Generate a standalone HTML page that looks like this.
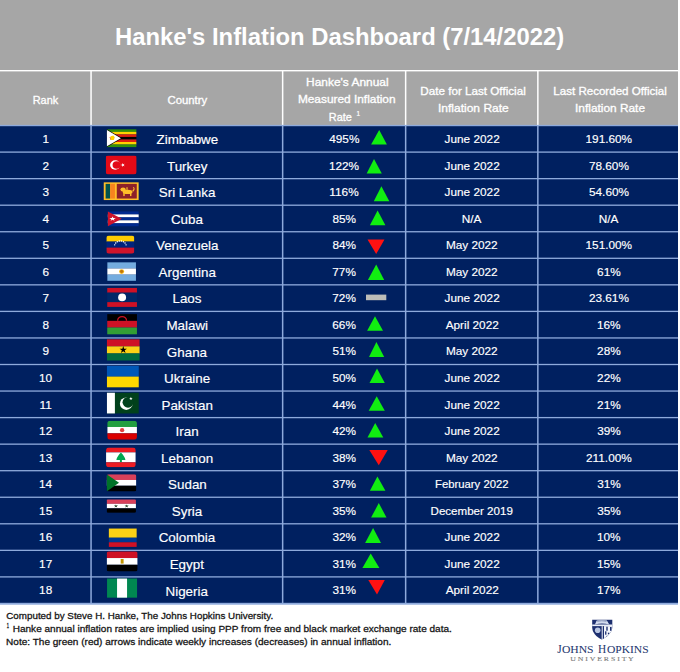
<!DOCTYPE html>
<html><head><meta charset="utf-8"><style>
html,body{margin:0;padding:0;background:#fff;width:680px;height:672px;overflow:hidden}
svg{display:block}
</style></head><body>
<svg width="680" height="672" viewBox="0 0 680 672">
<rect x="0" y="0" width="678" height="125" fill="#a6a6a6"/>
<rect x="0" y="125" width="678" height="478" fill="#002060"/>
<rect x="0" y="70" width="678" height="1.4" fill="#fff"/>
<rect x="90.3" y="70" width="1.5" height="55.5" fill="#fff"/>
<rect x="281.9" y="70" width="1.5" height="55.5" fill="#fff"/>
<rect x="404.9" y="70" width="1.5" height="55.5" fill="#fff"/>
<rect x="537.1" y="70" width="1.5" height="55.5" fill="#fff"/>
<rect x="0" y="124.9" width="678" height="1.3" fill="#8eaadc"/>
<rect x="0" y="151.45" width="678" height="1.3" fill="#8eaadc"/>
<rect x="0" y="178" width="678" height="1.3" fill="#8eaadc"/>
<rect x="0" y="204.55" width="678" height="1.3" fill="#8eaadc"/>
<rect x="0" y="231.1" width="678" height="1.3" fill="#8eaadc"/>
<rect x="0" y="257.65" width="678" height="1.3" fill="#8eaadc"/>
<rect x="0" y="284.2" width="678" height="1.3" fill="#8eaadc"/>
<rect x="0" y="310.75" width="678" height="1.3" fill="#8eaadc"/>
<rect x="0" y="337.3" width="678" height="1.3" fill="#8eaadc"/>
<rect x="0" y="363.85" width="678" height="1.3" fill="#8eaadc"/>
<rect x="0" y="390.4" width="678" height="1.3" fill="#8eaadc"/>
<rect x="0" y="416.95" width="678" height="1.3" fill="#8eaadc"/>
<rect x="0" y="443.5" width="678" height="1.3" fill="#8eaadc"/>
<rect x="0" y="470.05" width="678" height="1.3" fill="#8eaadc"/>
<rect x="0" y="496.6" width="678" height="1.3" fill="#8eaadc"/>
<rect x="0" y="523.15" width="678" height="1.3" fill="#8eaadc"/>
<rect x="0" y="549.7" width="678" height="1.3" fill="#8eaadc"/>
<rect x="0" y="576.25" width="678" height="1.3" fill="#8eaadc"/>
<rect x="0" y="602.8" width="678" height="1.9" fill="#8eaadc"/>
<rect x="90.3" y="125" width="1.5" height="478.5" fill="#8eaadc"/>
<rect x="281.9" y="125" width="1.5" height="478.5" fill="#8eaadc"/>
<rect x="404.9" y="125" width="1.5" height="478.5" fill="#8eaadc"/>
<rect x="537.1" y="125" width="1.5" height="478.5" fill="#8eaadc"/>
<polygon points="379.2,130.0 371.1,144.6 386.9,144.6" fill="#11ee11"/>
<polygon points="374.0,158.9 366.7,173.6 381.8,173.6" fill="#11ee11"/>
<polygon points="381.4,186.3 373.8,201.2 389.3,201.2" fill="#11ee11"/>
<polygon points="377.6,210.4 369.9,225.2 385.4,225.2" fill="#11ee11"/>
<polygon points="376.2,254.0 367.5,239.5 384.5,239.5" fill="#ff1111"/>
<polygon points="376.2,264.5 367.9,280.0 384.2,280.0" fill="#11ee11"/>
<polygon points="375.0,316.2 367.1,330.8 383.0,330.8" fill="#11ee11"/>
<polygon points="376.4,342.1 369.0,357.0 384.2,357.0" fill="#11ee11"/>
<polygon points="377.0,368.6 369.5,383.1 384.8,383.1" fill="#11ee11"/>
<polygon points="376.7,396.2 368.7,410.8 384.8,410.8" fill="#11ee11"/>
<polygon points="375.2,423.1 367.5,437.4 383.3,437.4" fill="#11ee11"/>
<polygon points="378.8,465.2 369.3,450.0 387.7,450.0" fill="#ff1111"/>
<polygon points="377.4,476.5 369.9,490.8 385.4,490.8" fill="#11ee11"/>
<polygon points="378.8,503.1 371.1,517.6 386.5,517.6" fill="#11ee11"/>
<polygon points="373.1,528.0 365.1,542.9 381.0,542.9" fill="#11ee11"/>
<polygon points="370.7,553.6 362.4,567.9 379.4,567.9" fill="#11ee11"/>
<polygon points="377.0,594.6 368.3,580.0 384.8,580.0" fill="#ff1111"/>
<rect x="366" y="294.6" width="20.3" height="5.6" fill="#bdbdb8"/>
<g transform="translate(106.95,129.35) scale(0.9800,0.8850)"><rect x="0" y="0.000" width="30" height="2.907" fill="#319208"/><rect x="0" y="2.857" width="30" height="2.907" fill="#ffd200"/><rect x="0" y="5.714" width="30" height="2.907" fill="#de2010"/><rect x="0" y="8.571" width="30" height="2.907" fill="#000"/><rect x="0" y="11.429" width="30" height="2.907" fill="#de2010"/><rect x="0" y="14.286" width="30" height="2.907" fill="#ffd200"/><rect x="0" y="17.143" width="30" height="2.907" fill="#319208"/><polygon points="0,0 15.5,10 0,20" fill="#000"/><polygon points="0,0.8 14.2,10 0,19.2" fill="#fff"/><polygon points="4.60,7.40 5.18,9.20 7.07,9.20 5.54,10.31 6.13,12.10 4.60,10.99 3.07,12.10 3.66,10.31 2.13,9.20 4.02,9.20" fill="#de2010"/><path d="M3.5,8 l3,-1 l1.5,2 l-1,3 l-3,0 z" fill="#ffd200"/></g>
<g transform="translate(105.75,155.55) scale(1.0300,0.9450)"><clipPath id="c10571555"><rect width="30" height="20" rx="2.5" ry="2.5"/></clipPath><g clip-path="url(#c10571555)"><rect width="30" height="20" fill="#e30a17"/><circle cx="9.2" cy="10" r="5.0" fill="#fff"/><circle cx="10.6" cy="10" r="4.0" fill="#e30a17"/><polygon points="14.50,10.00 15.95,9.53 15.95,8.00 16.85,9.24 18.30,8.77 17.40,10.00 18.30,11.23 16.85,10.76 15.95,12.00 15.95,10.47" fill="#fff"/></g></g>
<g transform="translate(103.75,182.35) scale(1.1633,0.8850)"><rect width="30" height="20" fill="#ffbe29"/><rect x="1.6" y="1.7" width="3.9" height="16.6" fill="#00534e"/><rect x="5.6" y="1.7" width="4.0" height="16.6" fill="#f7831f"/><rect x="11.2" y="1.7" width="17.2" height="16.6" fill="#8d2029"/><g fill="#ffbe29"><ellipse cx="20.5" cy="10.8" rx="4.2" ry="2.4"/><circle cx="16.6" cy="8.2" r="2.3"/><rect x="16.8" y="11.5" width="1.2" height="4"/><rect x="22.6" y="11.5" width="1.2" height="4"/><path d="M24.5,9.5 Q26.5,7 25,5.5 L25.8,5.2 Q27.5,7.5 25.2,10.5 Z"/><rect x="19.5" y="5.5" width="1" height="3"/></g></g>
<g transform="translate(107.85,211.45) scale(1.0267,0.7400)"><rect x="0" y="0.000" width="30" height="4.050" fill="#002a8f"/><rect x="0" y="4.000" width="30" height="4.050" fill="#fff"/><rect x="0" y="8.000" width="30" height="4.050" fill="#002a8f"/><rect x="0" y="12.000" width="30" height="4.050" fill="#fff"/><rect x="0" y="16.000" width="30" height="4.050" fill="#002a8f"/><polygon points="0,0 13.5,10 0,20" fill="#cf142b"/><polygon points="4.60,6.70 5.34,8.98 7.74,8.98 5.80,10.39 6.54,12.67 4.60,11.26 2.66,12.67 3.40,10.39 1.46,8.98 3.86,8.98" fill="#fff"/></g>
<g transform="translate(106.35,235.55) scale(0.9333,0.9050)"><clipPath id="c10632355"><rect width="30" height="20" rx="3" ry="3.0"/></clipPath><g clip-path="url(#c10632355)"><rect x="0" y="0.000" width="30" height="6.717" fill="#ffcc00"/><rect x="0" y="6.667" width="30" height="6.717" fill="#00247d"/><rect x="0" y="13.333" width="30" height="6.717" fill="#cf142b"/><circle cx="8.89" cy="10.28" r="0.8" fill="#fff"/><circle cx="10.02" cy="8.32" r="0.8" fill="#fff"/><circle cx="11.75" cy="6.87" r="0.8" fill="#fff"/><circle cx="13.87" cy="6.10" r="0.8" fill="#fff"/><circle cx="16.13" cy="6.10" r="0.8" fill="#fff"/><circle cx="18.25" cy="6.87" r="0.8" fill="#fff"/><circle cx="19.98" cy="8.32" r="0.8" fill="#fff"/><circle cx="21.11" cy="10.28" r="0.8" fill="#fff"/></g></g>
<g transform="translate(107.35,262.35) scale(0.9533,0.9200)"><rect x="0" y="0.000" width="30" height="6.717" fill="#74acdf"/><rect x="0" y="6.667" width="30" height="6.717" fill="#fff"/><rect x="0" y="13.333" width="30" height="6.717" fill="#74acdf"/><circle cx="15" cy="10" r="2.6" fill="#f6b40e"/><circle cx="15" cy="10" r="1.6" fill="#85340a" opacity="0.5"/></g>
<g transform="translate(107.25,287.95) scale(0.9900,0.9450)"><rect x="0" y="0.000" width="30" height="5.050" fill="#ce1126"/><rect x="0" y="5.000" width="30" height="10.050" fill="#002868"/><rect x="0" y="15.000" width="30" height="5.050" fill="#ce1126"/><circle cx="15" cy="10" r="4" fill="#fff"/></g>
<g transform="translate(107.25,314.15) scale(0.9900,1.0050)"><rect x="0" y="0.000" width="30" height="6.717" fill="#000"/><rect x="0" y="6.667" width="30" height="6.717" fill="#ce1126"/><rect x="0" y="13.333" width="30" height="6.717" fill="#339e35"/><path d="M10.5,6.6 A4.5,4.2 0 0 1 19.5,6.6" fill="none" stroke="#ce1126" stroke-width="1.3"/></g>
<g transform="translate(106.95,339.35) scale(1.0867,1.0550)"><rect x="0" y="0.000" width="30" height="6.717" fill="#ce1126"/><rect x="0" y="6.667" width="30" height="6.717" fill="#fcd116"/><rect x="0" y="13.333" width="30" height="6.717" fill="#006b3f"/><polygon points="15.00,6.40 15.81,8.89 18.42,8.89 16.31,10.42 17.12,12.91 15.00,11.38 12.88,12.91 13.69,10.42 11.58,8.89 14.19,8.89" fill="#000"/></g>
<g transform="translate(106.95,365.95) scale(1.0600,1.0650)"><rect x="0" y="0.000" width="30" height="10.050" fill="#0057b7"/><rect x="0" y="10.000" width="30" height="10.050" fill="#ffd700"/></g>
<g transform="translate(106.95,392.75) scale(1.0600,1.0350)"><rect width="30" height="20" fill="#01411c"/><rect width="7.5" height="20" fill="#fff"/><circle cx="18.2" cy="10.6" r="6" fill="#fff"/><circle cx="19.9" cy="9.2" r="5.2" fill="#01411c"/><polygon points="22.60,3.80 23.00,5.04 24.31,5.04 23.25,5.81 23.66,7.06 22.60,6.29 21.54,7.06 21.95,5.81 20.89,5.04 22.20,5.04" fill="#fff"/></g>
<g transform="translate(107.25,420.65) scale(0.9900,0.9500)"><clipPath id="c10724206"><rect width="30" height="20" rx="3" ry="3.0"/></clipPath><g clip-path="url(#c10724206)"><rect x="0" y="0.000" width="30" height="6.717" fill="#239f40"/><rect x="0" y="6.667" width="30" height="6.717" fill="#fff"/><rect x="0" y="13.333" width="30" height="6.717" fill="#da0000"/><circle cx="15" cy="10" r="2.2" fill="#da0000" opacity="0.75"/></g></g>
<g transform="translate(106.05,447.45) scale(0.9900,0.9900)"><clipPath id="c10604474"><rect width="30" height="20" rx="3" ry="3.0"/></clipPath><g clip-path="url(#c10604474)"><rect x="0" y="0.000" width="30" height="5.050" fill="#ed1c24"/><rect x="0" y="5.000" width="30" height="10.050" fill="#fff"/><rect x="0" y="15.000" width="30" height="5.050" fill="#ed1c24"/><path d="M15,5.0 Q17.2,7 18,9 Q19.8,11.6 19.6,12.6 Q17.5,13 16,12.6 L16,14.6 L14,14.6 L14,12.6 Q12.5,13 10.4,12.6 Q10.2,11.6 12,9 Q12.8,7 15,5.0 Z" fill="#00a651"/></g></g>
<g transform="translate(106.65,474.25) scale(0.9900,0.8600)"><clipPath id="c10664742"><rect width="30" height="20" rx="2" ry="2.0"/></clipPath><g clip-path="url(#c10664742)"><rect x="0" y="0.000" width="30" height="6.717" fill="#d8405a"/><rect x="0" y="6.667" width="30" height="6.717" fill="#fff"/><rect x="0" y="13.333" width="30" height="6.717" fill="#000"/><polygon points="0,0 12.5,10 0,20" fill="#007229"/></g></g>
<g transform="translate(106.65,499.35) scale(0.9767,0.6750)"><clipPath id="c10664993"><rect width="30" height="20" rx="1.5" ry="1.5"/></clipPath><g clip-path="url(#c10664993)"><rect x="0" y="0.000" width="30" height="6.717" fill="#d8405a"/><rect x="0" y="6.667" width="30" height="6.717" fill="#fff"/><rect x="0" y="13.333" width="30" height="6.717" fill="#000"/><polygon points="9.50,7.60 10.04,9.26 11.78,9.26 10.37,10.28 10.91,11.94 9.50,10.92 8.09,11.94 8.63,10.28 7.22,9.26 8.96,9.26" fill="#2a4a30"/><polygon points="20.50,7.60 21.04,9.26 22.78,9.26 21.37,10.28 21.91,11.94 20.50,10.92 19.09,11.94 19.63,10.28 18.22,9.26 19.96,9.26" fill="#2a4a30"/></g></g>
<g transform="translate(108.85,528.55) scale(0.9267,0.9150)"><rect x="0" y="0.000" width="30" height="10.050" fill="#fcd116"/><rect x="0" y="10.000" width="30" height="5.050" fill="#003893"/><rect x="0" y="15.000" width="30" height="5.050" fill="#ce1126"/></g>
<g transform="translate(106.65,551.35) scale(1.0333,1.0050)"><clipPath id="c10665513"><rect width="30" height="20" rx="2.5" ry="2.5"/></clipPath><g clip-path="url(#c10665513)"><rect x="0" y="0.000" width="30" height="6.717" fill="#ce1126"/><rect x="0" y="6.667" width="30" height="6.717" fill="#fff"/><rect x="0" y="13.333" width="30" height="6.717" fill="#000"/><rect x="13.6" y="7.6" width="2.8" height="4.6" fill="#c09300"/></g></g>
<g transform="translate(107.05,578.55) scale(1.0000,0.9550)"><rect width="30" height="20" fill="#008751"/><rect x="10" width="10" height="20" fill="#fff"/></g>
<defs><clipPath id="shc"><path d="M0,0 L20.2,0 L20.2,8 C20,13 15,17.5 9.6,20.1 C4.2,17.5 0.2,13 0,8 Z"/></clipPath></defs><g transform="translate(592.1,619.5)"><g clip-path="url(#shc)"><rect x="-1" y="-1" width="23" height="23" fill="#1d2f6f"/><path d="M2.8,4.9 L4.6,1.0 Q9.6,-0.2 14.8,1.0 L17.2,4.9 Q9.8,3.0 2.8,4.9 Z" fill="#d3dbee"/><path d="M5,1.4 Q9.6,0.3 14.5,1.4 L14.3,2.2 Q9.6,1.3 5.2,2.2 Z" fill="#8a96b8"/><rect x="-1" y="5.0" width="23" height="1.6" fill="#e9eef8"/><rect x="9.6" y="6.6" width="12" height="15" fill="#f4f6fb"/><circle cx="5.6" cy="10.8" r="2.8" fill="#b9c6e2"/><rect x="10.6" y="6.6" width="1.3" height="14" fill="#1d2f6f"/><rect x="14.2" y="7.2" width="1.4" height="4" fill="#1d2f6f"/><rect x="13.0" y="11.8" width="1.3" height="3.4" fill="#1d2f6f"/><rect x="17.9" y="7.5" width="1.6" height="3.8" fill="#1d2f6f"/><rect x="15.8" y="13.2" width="1.4" height="1.6" fill="#1d2f6f"/><rect x="14.4" y="16.3" width="1.2" height="1.8" fill="#1d2f6f"/><rect x="19.0" y="13" width="1.4" height="2" fill="#1d2f6f"/></g></g>
<text transform="translate(116.4,44.6) scale(1.0146,1)" x="-1.47" font-size="23.5" font-weight="bold" font-family="Liberation Sans" fill="#ffffff">Hanke&#39;s Inflation Dashboard (7/14/2022)</text>
<text transform="translate(33.5,103.6) scale(0.9963,1)" x="-0.86" font-size="11" font-weight="normal" font-family="Liberation Sans" fill="#fff" stroke="#fff" stroke-width="0.32">Rank</text>
<text transform="translate(168,103.7) scale(1.0316,1)" x="-0.52" font-size="11" font-weight="normal" font-family="Liberation Sans" fill="#fff" stroke="#fff" stroke-width="0.32">Country</text>
<text transform="translate(307,85.5) scale(1.0849,1)" x="-0.86" font-size="11" font-weight="normal" font-family="Liberation Sans" fill="#fff" stroke="#fff" stroke-width="0.32">Hanke&#39;s Annual</text>
<text transform="translate(298.8,102.5) scale(1.0806,1)" x="-0.86" font-size="11" font-weight="normal" font-family="Liberation Sans" fill="#fff" stroke="#fff" stroke-width="0.32">Measured Inflation</text>
<text transform="translate(329.7,121.3) scale(0.9895,1)" x="-0.86" font-size="11" font-weight="normal" font-family="Liberation Sans" fill="#fff" stroke="#fff" stroke-width="0.32">Rate</text>
<text transform="translate(356.9,116) scale(0.9143,1)" x="-0.44" font-size="7" font-weight="normal" font-family="Liberation Sans" fill="#fff" stroke="#fff" stroke-width="0.2">1</text>
<text transform="translate(421.2,95.4) scale(1.0616,1)" x="-0.86" font-size="11" font-weight="normal" font-family="Liberation Sans" fill="#fff" stroke="#fff" stroke-width="0.32">Date for Last Official</text>
<text transform="translate(438.9,112.3) scale(1.0927,1)" x="-0.86" font-size="11" font-weight="normal" font-family="Liberation Sans" fill="#fff" stroke="#fff" stroke-width="0.32">Inflation Rate</text>
<text transform="translate(554.2,95.3) scale(1.0523,1)" x="-0.86" font-size="11" font-weight="normal" font-family="Liberation Sans" fill="#fff" stroke="#fff" stroke-width="0.32">Last Recorded Official</text>
<text transform="translate(576,112.3) scale(1.0801,1)" x="-0.86" font-size="11" font-weight="normal" font-family="Liberation Sans" fill="#fff" stroke="#fff" stroke-width="0.32">Inflation Rate</text>
<text transform="translate(45.8,143.08) scale(1.0000,1)" x="-3.41" font-size="11.8" font-weight="normal" font-family="Liberation Sans" fill="#fff" stroke="#fff" stroke-width="0.16">1</text>
<text transform="translate(187.3,144.18) scale(1.0000,1)" x="-30.84" font-size="13.4" font-weight="normal" font-family="Liberation Sans" fill="#fff" stroke="#fff" stroke-width="0.16">Zimbabwe</text>
<text transform="translate(344.2,143.08) scale(1.0000,1)" x="-15.01" font-size="11.8" font-weight="normal" font-family="Liberation Sans" fill="#fff" stroke="#fff" stroke-width="0.16">495%</text>
<text transform="translate(472,143.08) scale(1.0000,1)" x="-27.41" font-size="11.8" font-weight="normal" font-family="Liberation Sans" fill="#fff" stroke="#fff" stroke-width="0.16">June 2022</text>
<text transform="translate(609,143.08) scale(1.0000,1)" x="-23.48" font-size="11.8" font-weight="normal" font-family="Liberation Sans" fill="#fff" stroke="#fff" stroke-width="0.16">191.60%</text>
<text transform="translate(45.8,169.62) scale(1.0000,1)" x="-3.32" font-size="11.8" font-weight="normal" font-family="Liberation Sans" fill="#fff" stroke="#fff" stroke-width="0.16">2</text>
<text transform="translate(187.3,170.72) scale(1.0000,1)" x="-20.33" font-size="13.4" font-weight="normal" font-family="Liberation Sans" fill="#fff" stroke="#fff" stroke-width="0.16">Turkey</text>
<text transform="translate(344.2,169.62) scale(1.0000,1)" x="-15.28" font-size="11.8" font-weight="normal" font-family="Liberation Sans" fill="#fff" stroke="#fff" stroke-width="0.16">122%</text>
<text transform="translate(472,169.62) scale(1.0000,1)" x="-27.41" font-size="11.8" font-weight="normal" font-family="Liberation Sans" fill="#fff" stroke="#fff" stroke-width="0.16">June 2022</text>
<text transform="translate(609,169.62) scale(1.0000,1)" x="-20.11" font-size="11.8" font-weight="normal" font-family="Liberation Sans" fill="#fff" stroke="#fff" stroke-width="0.16">78.60%</text>
<text transform="translate(45.8,196.18) scale(1.0000,1)" x="-3.23" font-size="11.8" font-weight="normal" font-family="Liberation Sans" fill="#fff" stroke="#fff" stroke-width="0.16">3</text>
<text transform="translate(187.3,197.28) scale(1.0000,1)" x="-28.56" font-size="13.4" font-weight="normal" font-family="Liberation Sans" fill="#fff" stroke="#fff" stroke-width="0.16">Sri Lanka</text>
<text transform="translate(344.2,196.18) scale(1.0000,1)" x="-14.85" font-size="11.8" font-weight="normal" font-family="Liberation Sans" fill="#fff" stroke="#fff" stroke-width="0.16">116%</text>
<text transform="translate(472,196.18) scale(1.0000,1)" x="-27.41" font-size="11.8" font-weight="normal" font-family="Liberation Sans" fill="#fff" stroke="#fff" stroke-width="0.16">June 2022</text>
<text transform="translate(609,196.18) scale(1.0000,1)" x="-20.02" font-size="11.8" font-weight="normal" font-family="Liberation Sans" fill="#fff" stroke="#fff" stroke-width="0.16">54.60%</text>
<text transform="translate(45.8,222.73) scale(1.0000,1)" x="-3.23" font-size="11.8" font-weight="normal" font-family="Liberation Sans" fill="#fff" stroke="#fff" stroke-width="0.16">4</text>
<text transform="translate(187.3,223.83) scale(1.0000,1)" x="-16.37" font-size="13.4" font-weight="normal" font-family="Liberation Sans" fill="#fff" stroke="#fff" stroke-width="0.16">Cuba</text>
<text transform="translate(344.2,222.73) scale(1.0000,1)" x="-11.82" font-size="11.8" font-weight="normal" font-family="Liberation Sans" fill="#fff" stroke="#fff" stroke-width="0.16">85%</text>
<text transform="translate(472,222.73) scale(1.0000,1)" x="-10.33" font-size="11.8" font-weight="normal" font-family="Liberation Sans" fill="#fff" stroke="#fff" stroke-width="0.16">N/A</text>
<text transform="translate(609,222.73) scale(1.0000,1)" x="-10.33" font-size="11.8" font-weight="normal" font-family="Liberation Sans" fill="#fff" stroke="#fff" stroke-width="0.16">N/A</text>
<text transform="translate(45.8,249.28) scale(1.0000,1)" x="-3.23" font-size="11.8" font-weight="normal" font-family="Liberation Sans" fill="#fff" stroke="#fff" stroke-width="0.16">5</text>
<text transform="translate(187.3,250.38) scale(1.0000,1)" x="-31.34" font-size="13.4" font-weight="normal" font-family="Liberation Sans" fill="#fff" stroke="#fff" stroke-width="0.16">Venezuela</text>
<text transform="translate(344.2,249.28) scale(1.0000,1)" x="-11.82" font-size="11.8" font-weight="normal" font-family="Liberation Sans" fill="#fff" stroke="#fff" stroke-width="0.16">84%</text>
<text transform="translate(472,249.28) scale(1.0000,1)" x="-26.13" font-size="11.8" font-weight="normal" font-family="Liberation Sans" fill="#fff" stroke="#fff" stroke-width="0.16">May 2022</text>
<text transform="translate(609,249.28) scale(1.0000,1)" x="-23.48" font-size="11.8" font-weight="normal" font-family="Liberation Sans" fill="#fff" stroke="#fff" stroke-width="0.16">151.00%</text>
<text transform="translate(45.8,275.82) scale(1.0000,1)" x="-3.32" font-size="11.8" font-weight="normal" font-family="Liberation Sans" fill="#fff" stroke="#fff" stroke-width="0.16">6</text>
<text transform="translate(187.3,276.92) scale(1.0000,1)" x="-28.72" font-size="13.4" font-weight="normal" font-family="Liberation Sans" fill="#fff" stroke="#fff" stroke-width="0.16">Argentina</text>
<text transform="translate(344.2,275.82) scale(1.0000,1)" x="-11.91" font-size="11.8" font-weight="normal" font-family="Liberation Sans" fill="#fff" stroke="#fff" stroke-width="0.16">77%</text>
<text transform="translate(472,275.82) scale(1.0000,1)" x="-26.13" font-size="11.8" font-weight="normal" font-family="Liberation Sans" fill="#fff" stroke="#fff" stroke-width="0.16">May 2022</text>
<text transform="translate(609,275.82) scale(1.0000,1)" x="-11.91" font-size="11.8" font-weight="normal" font-family="Liberation Sans" fill="#fff" stroke="#fff" stroke-width="0.16">61%</text>
<text transform="translate(45.8,302.38) scale(1.0000,1)" x="-3.32" font-size="11.8" font-weight="normal" font-family="Liberation Sans" fill="#fff" stroke="#fff" stroke-width="0.16">7</text>
<text transform="translate(187.3,303.48) scale(1.0000,1)" x="-14.84" font-size="13.4" font-weight="normal" font-family="Liberation Sans" fill="#fff" stroke="#fff" stroke-width="0.16">Laos</text>
<text transform="translate(344.2,302.38) scale(1.0000,1)" x="-11.91" font-size="11.8" font-weight="normal" font-family="Liberation Sans" fill="#fff" stroke="#fff" stroke-width="0.16">72%</text>
<text transform="translate(472,302.38) scale(1.0000,1)" x="-27.41" font-size="11.8" font-weight="normal" font-family="Liberation Sans" fill="#fff" stroke="#fff" stroke-width="0.16">June 2022</text>
<text transform="translate(609,302.38) scale(1.0000,1)" x="-20.11" font-size="11.8" font-weight="normal" font-family="Liberation Sans" fill="#fff" stroke="#fff" stroke-width="0.16">23.61%</text>
<text transform="translate(45.8,328.93) scale(1.0000,1)" x="-3.23" font-size="11.8" font-weight="normal" font-family="Liberation Sans" fill="#fff" stroke="#fff" stroke-width="0.16">8</text>
<text transform="translate(187.3,330.02) scale(1.0000,1)" x="-20.93" font-size="13.4" font-weight="normal" font-family="Liberation Sans" fill="#fff" stroke="#fff" stroke-width="0.16">Malawi</text>
<text transform="translate(344.2,328.93) scale(1.0000,1)" x="-11.91" font-size="11.8" font-weight="normal" font-family="Liberation Sans" fill="#fff" stroke="#fff" stroke-width="0.16">66%</text>
<text transform="translate(472,328.93) scale(1.0000,1)" x="-26.33" font-size="11.8" font-weight="normal" font-family="Liberation Sans" fill="#fff" stroke="#fff" stroke-width="0.16">April 2022</text>
<text transform="translate(609,328.93) scale(1.0000,1)" x="-12" font-size="11.8" font-weight="normal" font-family="Liberation Sans" fill="#fff" stroke="#fff" stroke-width="0.16">16%</text>
<text transform="translate(45.8,355.48) scale(1.0000,1)" x="-3.32" font-size="11.8" font-weight="normal" font-family="Liberation Sans" fill="#fff" stroke="#fff" stroke-width="0.16">9</text>
<text transform="translate(187.3,356.57) scale(1.0000,1)" x="-20.47" font-size="13.4" font-weight="normal" font-family="Liberation Sans" fill="#fff" stroke="#fff" stroke-width="0.16">Ghana</text>
<text transform="translate(344.2,355.48) scale(1.0000,1)" x="-11.82" font-size="11.8" font-weight="normal" font-family="Liberation Sans" fill="#fff" stroke="#fff" stroke-width="0.16">51%</text>
<text transform="translate(472,355.48) scale(1.0000,1)" x="-26.13" font-size="11.8" font-weight="normal" font-family="Liberation Sans" fill="#fff" stroke="#fff" stroke-width="0.16">May 2022</text>
<text transform="translate(609,355.48) scale(1.0000,1)" x="-11.91" font-size="11.8" font-weight="normal" font-family="Liberation Sans" fill="#fff" stroke="#fff" stroke-width="0.16">28%</text>
<text transform="translate(45.8,382.03) scale(1.0000,1)" x="-6.78" font-size="11.8" font-weight="normal" font-family="Liberation Sans" fill="#fff" stroke="#fff" stroke-width="0.16">10</text>
<text transform="translate(187.3,383.12) scale(1.0000,1)" x="-23.23" font-size="13.4" font-weight="normal" font-family="Liberation Sans" fill="#fff" stroke="#fff" stroke-width="0.16">Ukraine</text>
<text transform="translate(344.2,382.03) scale(1.0000,1)" x="-11.82" font-size="11.8" font-weight="normal" font-family="Liberation Sans" fill="#fff" stroke="#fff" stroke-width="0.16">50%</text>
<text transform="translate(472,382.03) scale(1.0000,1)" x="-27.41" font-size="11.8" font-weight="normal" font-family="Liberation Sans" fill="#fff" stroke="#fff" stroke-width="0.16">June 2022</text>
<text transform="translate(609,382.03) scale(1.0000,1)" x="-11.91" font-size="11.8" font-weight="normal" font-family="Liberation Sans" fill="#fff" stroke="#fff" stroke-width="0.16">22%</text>
<text transform="translate(45.8,408.57) scale(1.0000,1)" x="-6.25" font-size="11.8" font-weight="normal" font-family="Liberation Sans" fill="#fff" stroke="#fff" stroke-width="0.16">11</text>
<text transform="translate(187.3,409.67) scale(1.0000,1)" x="-25.84" font-size="13.4" font-weight="normal" font-family="Liberation Sans" fill="#fff" stroke="#fff" stroke-width="0.16">Pakistan</text>
<text transform="translate(344.2,408.57) scale(1.0000,1)" x="-11.73" font-size="11.8" font-weight="normal" font-family="Liberation Sans" fill="#fff" stroke="#fff" stroke-width="0.16">44%</text>
<text transform="translate(472,408.57) scale(1.0000,1)" x="-27.41" font-size="11.8" font-weight="normal" font-family="Liberation Sans" fill="#fff" stroke="#fff" stroke-width="0.16">June 2022</text>
<text transform="translate(609,408.57) scale(1.0000,1)" x="-11.91" font-size="11.8" font-weight="normal" font-family="Liberation Sans" fill="#fff" stroke="#fff" stroke-width="0.16">21%</text>
<text transform="translate(45.8,435.13) scale(1.0000,1)" x="-6.69" font-size="11.8" font-weight="normal" font-family="Liberation Sans" fill="#fff" stroke="#fff" stroke-width="0.16">12</text>
<text transform="translate(187.3,436.23) scale(1.0000,1)" x="-11.69" font-size="13.4" font-weight="normal" font-family="Liberation Sans" fill="#fff" stroke="#fff" stroke-width="0.16">Iran</text>
<text transform="translate(344.2,435.13) scale(1.0000,1)" x="-11.73" font-size="11.8" font-weight="normal" font-family="Liberation Sans" fill="#fff" stroke="#fff" stroke-width="0.16">42%</text>
<text transform="translate(472,435.13) scale(1.0000,1)" x="-27.41" font-size="11.8" font-weight="normal" font-family="Liberation Sans" fill="#fff" stroke="#fff" stroke-width="0.16">June 2022</text>
<text transform="translate(609,435.13) scale(1.0000,1)" x="-11.82" font-size="11.8" font-weight="normal" font-family="Liberation Sans" fill="#fff" stroke="#fff" stroke-width="0.16">39%</text>
<text transform="translate(45.8,461.68) scale(1.0000,1)" x="-6.69" font-size="11.8" font-weight="normal" font-family="Liberation Sans" fill="#fff" stroke="#fff" stroke-width="0.16">13</text>
<text transform="translate(187.3,462.77) scale(1.0000,1)" x="-26.23" font-size="13.4" font-weight="normal" font-family="Liberation Sans" fill="#fff" stroke="#fff" stroke-width="0.16">Lebanon</text>
<text transform="translate(344.2,461.68) scale(1.0000,1)" x="-11.82" font-size="11.8" font-weight="normal" font-family="Liberation Sans" fill="#fff" stroke="#fff" stroke-width="0.16">38%</text>
<text transform="translate(472,461.68) scale(1.0000,1)" x="-26.13" font-size="11.8" font-weight="normal" font-family="Liberation Sans" fill="#fff" stroke="#fff" stroke-width="0.16">May 2022</text>
<text transform="translate(609,461.68) scale(1.0000,1)" x="-22.95" font-size="11.8" font-weight="normal" font-family="Liberation Sans" fill="#fff" stroke="#fff" stroke-width="0.16">211.00%</text>
<text transform="translate(45.8,488.23) scale(1.0000,1)" x="-6.78" font-size="11.8" font-weight="normal" font-family="Liberation Sans" fill="#fff" stroke="#fff" stroke-width="0.16">14</text>
<text transform="translate(187.3,489.32) scale(1.0000,1)" x="-19.21" font-size="13.4" font-weight="normal" font-family="Liberation Sans" fill="#fff" stroke="#fff" stroke-width="0.16">Sudan</text>
<text transform="translate(344.2,488.23) scale(1.0000,1)" x="-11.82" font-size="11.8" font-weight="normal" font-family="Liberation Sans" fill="#fff" stroke="#fff" stroke-width="0.16">37%</text>
<text transform="translate(472,488.03) scale(1.0100,1)" x="-36.63" font-size="11.2" font-weight="normal" font-family="Liberation Sans" fill="#fff" stroke="#fff" stroke-width="0.16">February 2022</text>
<text transform="translate(609,488.23) scale(1.0000,1)" x="-11.82" font-size="11.8" font-weight="normal" font-family="Liberation Sans" fill="#fff" stroke="#fff" stroke-width="0.16">31%</text>
<text transform="translate(45.8,514.77) scale(1.0000,1)" x="-6.69" font-size="11.8" font-weight="normal" font-family="Liberation Sans" fill="#fff" stroke="#fff" stroke-width="0.16">15</text>
<text transform="translate(187.3,515.88) scale(1.0000,1)" x="-15.52" font-size="13.4" font-weight="normal" font-family="Liberation Sans" fill="#fff" stroke="#fff" stroke-width="0.16">Syria</text>
<text transform="translate(344.2,514.77) scale(1.0000,1)" x="-11.82" font-size="11.8" font-weight="normal" font-family="Liberation Sans" fill="#fff" stroke="#fff" stroke-width="0.16">35%</text>
<text transform="translate(472,514.58) scale(1.0350,1)" x="-40.06" font-size="11.2" font-weight="normal" font-family="Liberation Sans" fill="#fff" stroke="#fff" stroke-width="0.16">December 2019</text>
<text transform="translate(609,514.77) scale(1.0000,1)" x="-11.82" font-size="11.8" font-weight="normal" font-family="Liberation Sans" fill="#fff" stroke="#fff" stroke-width="0.16">35%</text>
<text transform="translate(45.8,541.32) scale(1.0000,1)" x="-6.69" font-size="11.8" font-weight="normal" font-family="Liberation Sans" fill="#fff" stroke="#fff" stroke-width="0.16">16</text>
<text transform="translate(187.3,542.42) scale(1.0000,1)" x="-28.66" font-size="13.4" font-weight="normal" font-family="Liberation Sans" fill="#fff" stroke="#fff" stroke-width="0.16">Colombia</text>
<text transform="translate(344.2,541.32) scale(1.0000,1)" x="-11.82" font-size="11.8" font-weight="normal" font-family="Liberation Sans" fill="#fff" stroke="#fff" stroke-width="0.16">32%</text>
<text transform="translate(472,541.32) scale(1.0000,1)" x="-27.41" font-size="11.8" font-weight="normal" font-family="Liberation Sans" fill="#fff" stroke="#fff" stroke-width="0.16">June 2022</text>
<text transform="translate(609,541.32) scale(1.0000,1)" x="-12" font-size="11.8" font-weight="normal" font-family="Liberation Sans" fill="#fff" stroke="#fff" stroke-width="0.16">10%</text>
<text transform="translate(45.8,567.88) scale(1.0000,1)" x="-6.69" font-size="11.8" font-weight="normal" font-family="Liberation Sans" fill="#fff" stroke="#fff" stroke-width="0.16">17</text>
<text transform="translate(187.3,568.98) scale(1.0000,1)" x="-17.68" font-size="13.4" font-weight="normal" font-family="Liberation Sans" fill="#fff" stroke="#fff" stroke-width="0.16">Egypt</text>
<text transform="translate(344.2,567.88) scale(1.0000,1)" x="-11.82" font-size="11.8" font-weight="normal" font-family="Liberation Sans" fill="#fff" stroke="#fff" stroke-width="0.16">31%</text>
<text transform="translate(472,567.88) scale(1.0000,1)" x="-27.41" font-size="11.8" font-weight="normal" font-family="Liberation Sans" fill="#fff" stroke="#fff" stroke-width="0.16">June 2022</text>
<text transform="translate(609,567.88) scale(1.0000,1)" x="-12" font-size="11.8" font-weight="normal" font-family="Liberation Sans" fill="#fff" stroke="#fff" stroke-width="0.16">15%</text>
<text transform="translate(45.8,594.42) scale(1.0000,1)" x="-6.69" font-size="11.8" font-weight="normal" font-family="Liberation Sans" fill="#fff" stroke="#fff" stroke-width="0.16">18</text>
<text transform="translate(187.3,595.52) scale(1.0000,1)" x="-21.79" font-size="13.4" font-weight="normal" font-family="Liberation Sans" fill="#fff" stroke="#fff" stroke-width="0.16">Nigeria</text>
<text transform="translate(344.2,594.42) scale(1.0000,1)" x="-11.82" font-size="11.8" font-weight="normal" font-family="Liberation Sans" fill="#fff" stroke="#fff" stroke-width="0.16">31%</text>
<text transform="translate(472,594.42) scale(1.0000,1)" x="-26.33" font-size="11.8" font-weight="normal" font-family="Liberation Sans" fill="#fff" stroke="#fff" stroke-width="0.16">April 2022</text>
<text transform="translate(609,594.42) scale(1.0000,1)" x="-12" font-size="11.8" font-weight="normal" font-family="Liberation Sans" fill="#fff" stroke="#fff" stroke-width="0.16">17%</text>
<text transform="translate(6.7,618.6) scale(1.0127,1)" x="-0.45" font-size="9.7" font-weight="normal" font-family="Liberation Sans" fill="#141414" stroke="#141414" stroke-width="0.28">Computed by Steve H. Hanke, The Johns Hopkins University.</text>
<text transform="translate(7.1,628.3) scale(0.6111,1)" x="-0.41" font-size="6.5" font-weight="normal" font-family="Liberation Sans" fill="#141414" stroke="#141414" stroke-width="0.3">1</text>
<text transform="translate(13.5,632) scale(1.0353,1)" x="-0.76" font-size="9.7" font-weight="normal" font-family="Liberation Sans" fill="#141414" stroke="#141414" stroke-width="0.28">Hanke annual inflation rates are implied using PPP from free and black market exchange rate data.</text>
<text transform="translate(6.9,645) scale(1.0361,1)" x="-0.76" font-size="9.7" font-weight="normal" font-family="Liberation Sans" fill="#141414" stroke="#141414" stroke-width="0.28">Note: The green (red) arrows indicate weekly increases (decreases) in annual inflation.</text>
<text transform="translate(557.45,653.2) scale(0.9127,1)" x="-0.2" font-size="12.5" font-weight="normal" font-family="Liberation Serif" fill="#26386f" stroke="#26386f" stroke-width="0.05">J</text>
<text transform="translate(562.25,653.2) scale(1.1650,1)" x="-0.31" font-size="10.0" font-weight="normal" font-family="Liberation Serif" fill="#26386f" stroke="#26386f" stroke-width="0.05">OHNS</text>
<text transform="translate(598.25,653.2) scale(0.9076,1)" x="-0.2" font-size="12.5" font-weight="normal" font-family="Liberation Serif" fill="#26386f" stroke="#26386f" stroke-width="0.05">H</text>
<text transform="translate(607.25,653.2) scale(1.1548,1)" x="-0.31" font-size="10.0" font-weight="normal" font-family="Liberation Serif" fill="#26386f" stroke="#26386f" stroke-width="0.05">OPKINS</text>
<text transform="translate(570.3,661.2) scale(1.2585,1)" x="-0.1" font-size="6.2" font-weight="normal" font-family="Liberation Serif" fill="#7a7a7a" stroke="#7a7a7a" stroke-width="0.1">U N I V E R S I T Y</text>
</svg>
</body></html>
